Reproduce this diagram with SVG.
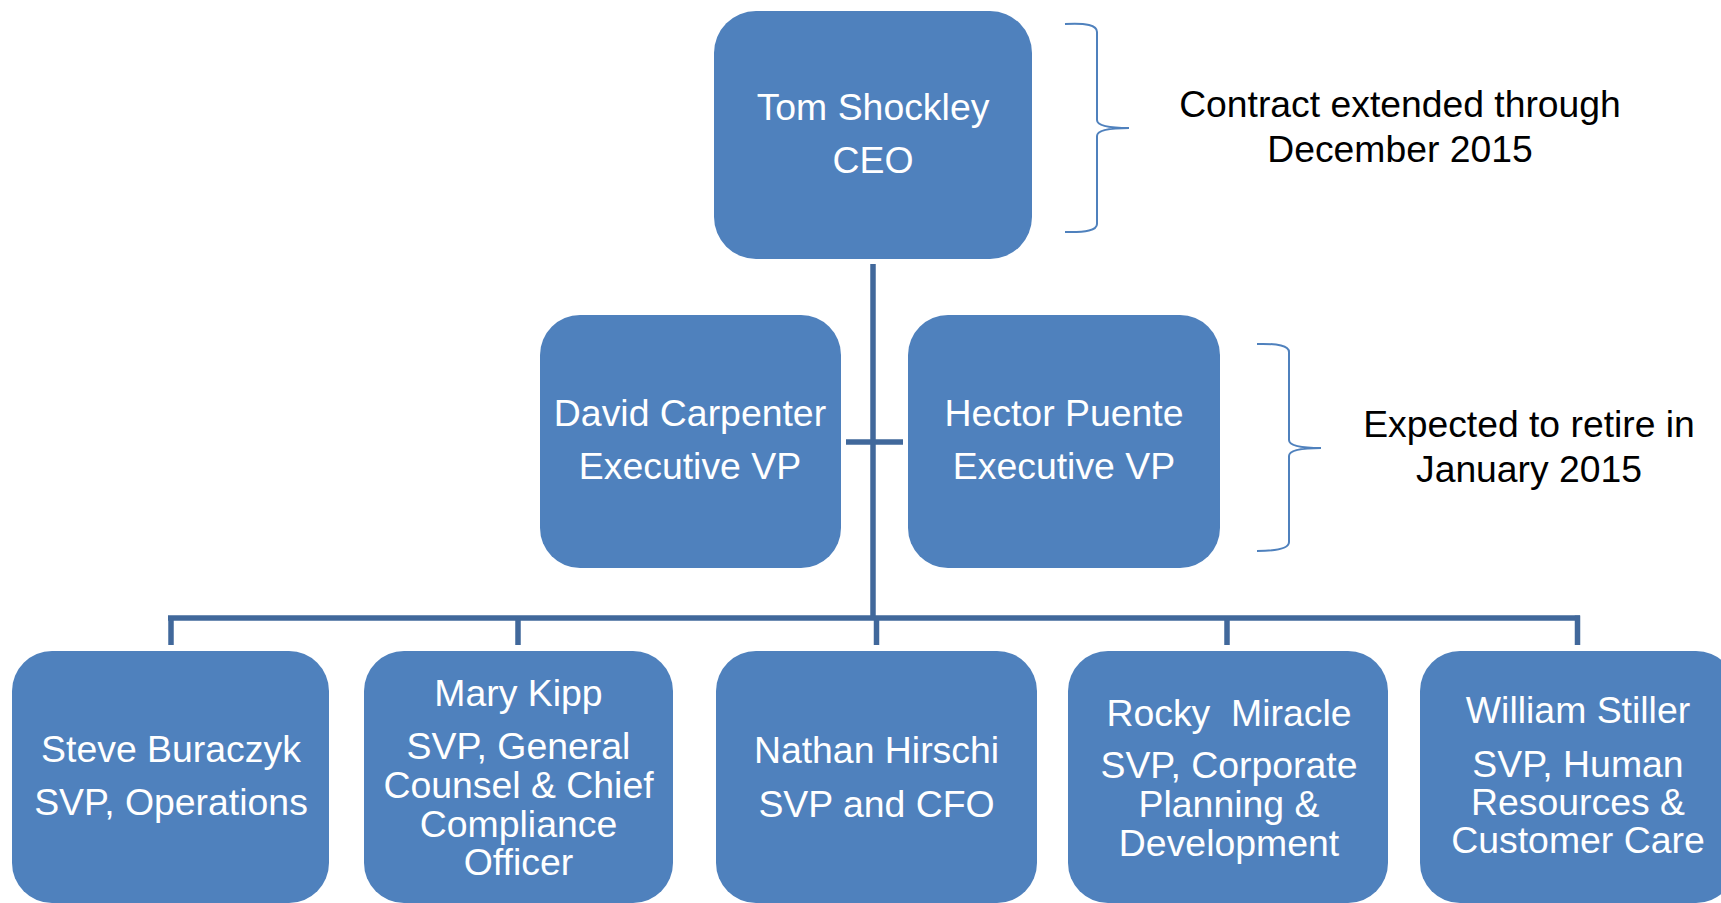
<svg xmlns="http://www.w3.org/2000/svg" width="1721" height="903" viewBox="0 0 1721 903">
  <style>
    .box { fill: #4F81BD; }
    .lbl { font-family: "Liberation Sans", Arial, sans-serif; font-size: 37.4px; fill: #FFFFFF; text-anchor: middle; white-space: pre; }
    .note { font-family: "Liberation Sans", Arial, sans-serif; font-size: 37.3px; fill: #000000; text-anchor: middle; }
    .wire { stroke: #41689B; stroke-width: 5.5; fill: none; }
    .brace { stroke: #4F81BD; stroke-width: 2; fill: none; }
  </style>
  <rect width="1721" height="903" fill="#FFFFFF"/>

  <!-- reporting lines -->
  <g id="connectors">
    <line class="wire" x1="873" y1="264" x2="873" y2="618"/>
    <line class="wire" x1="846" y1="442" x2="903" y2="442"/>
    <line class="wire" x1="168" y1="618" x2="1580" y2="618"/>
    <line class="wire" x1="171" y1="618" x2="171" y2="645"/>
    <line class="wire" x1="518" y1="618" x2="518" y2="645"/>
    <line class="wire" x1="876.5" y1="618" x2="876.5" y2="645"/>
    <line class="wire" x1="1227" y1="618" x2="1227" y2="645"/>
    <line class="wire" x1="1577.5" y1="615.5" x2="1577.5" y2="645"/>
  </g>

  <g id="ceo">
    <rect class="box" x="714" y="11" width="318" height="248" rx="42" ry="42"/>
    <text class="lbl" x="873" y="120">Tom Shockley</text>
    <text class="lbl" x="873" y="173">CEO</text>
  </g>

  <g id="evp-carpenter">
    <rect class="box" x="540" y="315" width="301" height="253" rx="40" ry="40"/>
    <text class="lbl" x="690" y="426">David Carpenter</text>
    <text class="lbl" x="690" y="479">Executive VP</text>
  </g>

  <g id="evp-puente">
    <rect class="box" x="908" y="315" width="312" height="253" rx="40" ry="40"/>
    <text class="lbl" x="1064" y="426">Hector Puente</text>
    <text class="lbl" x="1064" y="479">Executive VP</text>
  </g>

  <g id="svp-buraczyk">
    <rect class="box" x="12" y="651" width="317" height="252" rx="40" ry="40"/>
    <text class="lbl" x="171" y="762">Steve Buraczyk</text>
    <text class="lbl" x="171" y="815">SVP, Operations</text>
  </g>

  <g id="svp-kipp">
    <rect class="box" x="364" y="651" width="309" height="252" rx="40" ry="40"/>
    <text class="lbl" x="518.5" y="706">Mary Kipp</text>
    <text class="lbl" x="518.5" y="759">SVP, General</text>
    <text class="lbl" x="518.5" y="798">Counsel &amp; Chief</text>
    <text class="lbl" x="518.5" y="837">Compliance</text>
    <text class="lbl" x="518.5" y="875">Officer</text>
  </g>

  <g id="svp-hirschi">
    <rect class="box" x="716" y="651" width="321" height="252" rx="40" ry="40"/>
    <text class="lbl" x="876.5" y="763">Nathan Hirschi</text>
    <text class="lbl" x="876.5" y="817">SVP and CFO</text>
  </g>

  <g id="svp-miracle">
    <rect class="box" x="1068" y="651" width="320" height="252" rx="40" ry="40"/>
    <text class="lbl" x="1229" y="726">Rocky  Miracle</text>
    <text class="lbl" x="1229" y="778">SVP, Corporate</text>
    <text class="lbl" x="1229" y="817">Planning &amp;</text>
    <text class="lbl" x="1229" y="856">Development</text>
  </g>

  <g id="svp-stiller">
    <rect class="box" x="1420" y="651" width="316" height="252" rx="40" ry="40"/>
    <text class="lbl" x="1578" y="723">William Stiller</text>
    <text class="lbl" x="1578" y="777">SVP, Human</text>
    <text class="lbl" x="1578" y="815">Resources &amp;</text>
    <text class="lbl" x="1578" y="853">Customer Care</text>
  </g>

  <!-- side notes with braces -->
  <g id="note-ceo">
    <path class="brace" d="M1065,24 Q1097,22 1097,32 L1097,120 Q1097,128 1129,128 Q1097,128 1097,136 L1097,224 Q1097,233 1065,232"/>
    <text class="note" x="1400" y="117">Contract extended through</text>
    <text class="note" x="1400" y="162">December 2015</text>
  </g>

  <g id="note-puente">
    <path class="brace" d="M1257,344 Q1289,343 1289,352 L1289,440 Q1289,448 1321,448 Q1289,448 1289,456 L1289,542 Q1289,551 1257,551"/>
    <text class="note" x="1529" y="437">Expected to retire in</text>
    <text class="note" x="1529" y="482">January 2015</text>
  </g>
</svg>
